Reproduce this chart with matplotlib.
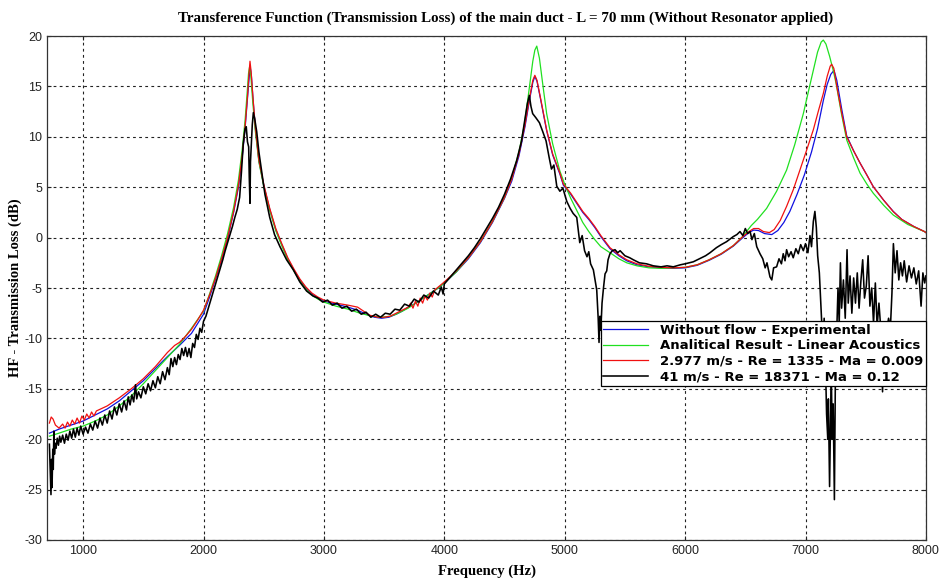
import matplotlib
matplotlib.use("Agg")
import matplotlib.pyplot as plt

plt.rcParams["axes.unicode_minus"] = False

# values (Hz, dB)
blue_freq = [720, 800, 900, 1000, 1100, 1200, 1300, 1400, 1500, 1600, 1700, 1800, 1900, 2000,
             2050, 2100, 2150, 2200, 2250, 2290, 2320, 2345, 2365, 2380, 2389, 2398, 2412, 2432,
             2460, 2500, 2550, 2600, 2650, 2700, 2750, 2800, 2850, 2900, 2950, 3000, 3100, 3200,
             3280, 3350, 3420, 3480, 3540, 3600, 3650, 3700, 3750, 3800, 3850, 3900, 3950, 4000,
             4100, 4200, 4300, 4400, 4500, 4560, 4620, 4670, 4710, 4735, 4752, 4770, 4800, 4850,
             4900, 4960, 4989, 5050, 5100, 5150, 5200, 5250, 5300, 5376, 5450, 5515, 5600, 5700,
             5800, 5900, 6000, 6100, 6200, 6300, 6400, 6470, 6530, 6570, 6610, 6660, 6720, 6770,
             6820, 6870, 6930, 6990, 7050, 7100, 7148, 7180, 7210, 7237, 7260, 7300, 7342, 7400,
             7453, 7510, 7563, 7650, 7729, 7800, 7900, 7988, 8000]
blue_tl = [-19.4, -19.0, -18.6, -18.2, -17.6, -17.0, -16.2, -15.2, -14.2, -13.0, -11.8, -10.7, -9.5, -7.6,
           -5.9, -4.1, -2.2, -0.1, 2.5, 5.0, 7.8, 10.8, 13.8, 16.0, 16.8, 16.0, 13.6, 10.7,
           7.6, 5.2, 2.8, 0.8, -0.7, -2.1, -3.2, -4.2, -5.0, -5.6, -6.0, -6.3, -6.6, -6.9,
           -7.2, -7.6, -7.9, -8.0, -7.9, -7.6, -7.3, -6.9, -6.6, -6.2, -5.8, -5.4, -5.0, -4.5,
           -3.4, -2.1, -0.5, 1.5, 3.9, 5.6, 8.1, 11.0, 13.8, 15.4, 16.0, 15.5, 13.7, 10.6,
           8.2, 6.3, 5.2, 4.3, 3.4, 2.5, 1.8, 1.0, 0.1, -1.1, -1.8, -2.3, -2.7, -2.9,
           -3.0, -3.05, -3.0, -2.75, -2.25, -1.65, -0.85, -0.1, 0.5, 0.75, 0.7, 0.4, 0.3, 0.7,
           1.5, 2.6, 4.3, 6.2, 8.5, 10.8, 13.6, 15.2, 16.2, 16.6, 15.6, 12.8, 10.1, 8.6,
           7.4, 6.2, 5.05, 3.7, 2.6, 1.8, 1.1, 0.6, 0.5]

green_freq = [720, 800, 900, 1000, 1100, 1200, 1300, 1400, 1500, 1600, 1700, 1800, 1900, 2000,
              2050, 2100, 2150, 2200, 2250, 2290, 2320, 2345, 2362, 2374, 2382, 2392, 2408, 2430,
              2460, 2500, 2550, 2600, 2650, 2700, 2750, 2800, 2850, 2900, 2950, 3000, 3100, 3200,
              3300, 3400, 3480, 3550, 3600, 3650, 3700, 3750, 3800, 3850, 3900, 3950, 4000, 4100,
              4200, 4300, 4400, 4500, 4560, 4620, 4665, 4700, 4735, 4752, 4768, 4790, 4820, 4850,
              4900, 4960, 5000, 5050, 5100, 5150, 5200, 5250, 5300, 5376, 5450, 5515, 5600, 5700,
              5800, 5900, 6000, 6100, 6200, 6300, 6400, 6470, 6550, 6600, 6677, 6760, 6843, 6910,
              6982, 7030, 7065, 7100, 7130, 7148, 7170, 7200, 7230, 7254, 7300, 7342, 7400, 7453,
              7510, 7563, 7650, 7729, 7850, 7988, 8000]
green_tl = [-19.7, -19.4, -19.0, -18.7, -18.2, -17.6, -16.7, -15.7, -14.5, -13.2, -11.9, -10.6, -9.0, -7.3,
            -5.6, -3.8, -1.8, 0.4, 3.0, 5.7, 8.6, 11.6, 14.3, 16.3, 16.9, 16.2, 13.6, 10.6,
            7.5, 5.1, 2.7, 0.7, -0.8, -2.2, -3.3, -4.3, -5.1, -5.7, -6.1, -6.4, -6.8, -7.1,
            -7.5, -7.8, -7.9, -7.8, -7.6, -7.3, -7.0, -6.6, -6.2, -5.8, -5.4, -5.0, -4.5, -3.4,
            -2.0, -0.4, 1.6, 4.0, 5.9, 8.5, 11.2, 14.3, 17.5, 18.6, 19.0, 17.8, 15.0, 12.3,
            9.3, 6.6, 5.3, 3.9, 2.7, 1.5, 0.6, -0.2, -0.9, -1.5, -2.1, -2.5, -2.8, -3.0,
            -3.05, -3.0, -2.95, -2.7, -2.2, -1.6, -0.8, 0.0, 1.2, 1.8, 2.9, 4.6, 6.7, 9.2,
            12.3, 14.8, 16.6, 18.4, 19.4, 19.6, 19.2, 18.0, 16.6, 15.3, 12.2, 9.7, 7.9, 6.4,
            5.3, 4.4, 3.2, 2.24, 1.3, 0.6, 0.5]

red_freq = [720, 735, 750, 770, 800, 830, 850, 870, 890, 910, 930, 950, 970, 990, 1010, 1030,
            1050, 1070, 1090, 1110, 1200, 1300, 1400, 1500, 1600, 1700, 1760, 1800, 1850, 1900,
            1950, 2000, 2050, 2100, 2150, 2200, 2250, 2290, 2320, 2345, 2365, 2378, 2386, 2395,
            2410, 2430, 2460, 2500, 2550, 2600, 2650, 2700, 2750, 2800, 2850, 2900, 2950, 3000,
            3100, 3200, 3280, 3330, 3380, 3450, 3500, 3550, 3600, 3650, 3700, 3720, 3740, 3760,
            3780, 3800, 3820, 3840, 3860, 3880, 3900, 3920, 3950, 4000, 4100, 4200, 4300, 4400,
            4500, 4560, 4620, 4670, 4710, 4735, 4752, 4770, 4800, 4850, 4900, 4960, 4989, 5050,
            5100, 5150, 5200, 5250, 5300, 5376, 5450, 5515, 5600, 5700, 5800, 5900, 6000, 6100,
            6200, 6300, 6400, 6470, 6530, 6570, 6610, 6650, 6700, 6740, 6790, 6843, 6900, 6954,
            7010, 7065, 7110, 7148, 7180, 7205, 7217, 7235, 7260, 7300, 7342, 7400, 7453, 7510,
            7563, 7650, 7729, 7800, 7900, 7988, 8000]
red_tl = [-18.4, -17.8, -18.0, -18.6, -18.9, -18.5, -18.9, -18.3, -18.7, -18.1, -18.5, -17.9, -18.4, -17.7, -18.1, -17.5,
          -17.9, -17.3, -17.7, -17.2, -16.7, -15.9, -15.0, -14.0, -12.8, -11.4, -10.7, -10.4, -9.8, -9.1,
          -8.2, -7.2, -5.7, -4.0, -2.1, 0.0, 2.6, 5.2, 8.0, 11.0, 14.0, 16.3, 17.5, 16.5,
          14.0, 11.0, 7.7, 5.3, 2.9, 0.9, -0.6, -2.0, -3.1, -4.1, -4.9, -5.5, -5.9, -6.2,
          -6.5, -6.7, -6.9, -7.3, -7.7, -7.9, -7.9, -7.8, -7.5, -7.2, -6.9, -6.5, -7.0, -6.3,
          -6.8, -6.0, -6.5, -5.8, -6.2, -5.5, -5.9, -5.2, -4.9, -4.4, -3.3, -2.0, -0.4, 1.6,
          4.0, 5.8, 8.3, 11.2, 14.0, 15.6, 16.1, 15.6, 13.8, 10.7, 8.3, 6.4, 5.3, 4.4,
          3.5, 2.6, 1.9, 1.1, 0.2, -1.0, -1.7, -2.2, -2.6, -2.85, -2.95, -3.0, -2.95, -2.7,
          -2.2, -1.6, -0.8, 0.0, 0.6, 0.9, 0.9, 0.6, 0.5, 0.8, 1.7, 3.1, 4.8, 6.7,
          8.7, 10.7, 12.7, 14.3, 16.0, 17.0, 17.2, 16.8, 15.0, 12.4, 10.0, 8.6, 7.4, 6.2,
          5.05, 3.7, 2.57, 1.8, 1.1, 0.6, 0.5]

black_freq = [720, 728, 733, 738, 742, 748, 752, 757, 762, 768, 775, 785, 795, 805, 815, 830,
              845, 860, 875, 890, 905, 920, 935, 950, 965, 980, 1000, 1020, 1040, 1060, 1080, 1100,
              1120, 1140, 1160, 1180, 1200, 1220, 1240, 1260, 1280, 1300, 1320, 1340, 1360, 1375,
              1390, 1405, 1420, 1435, 1445, 1460, 1480, 1500, 1520, 1540, 1560, 1580, 1600, 1620,
              1640, 1660, 1680, 1700, 1715, 1730, 1745, 1760, 1775, 1790, 1805, 1820, 1835, 1850,
              1865, 1880, 1895, 1910, 1925, 1940, 1955, 1970, 1985, 2000, 2020, 2040, 2060, 2080,
              2100, 2120, 2140, 2160, 2180, 2200, 2220, 2240, 2260, 2280, 2300, 2315, 2330, 2345,
              2355, 2365, 2375, 2380, 2386, 2390, 2395, 2405, 2414, 2425, 2442, 2460, 2483, 2510,
              2550, 2590, 2635, 2690, 2746, 2800, 2856, 2910, 2950, 2990, 3030, 3070, 3110, 3150,
              3190, 3230, 3270, 3310, 3350, 3390, 3430, 3470, 3510, 3550, 3590, 3630, 3670, 3710,
              3750, 3790, 3830, 3870, 3910, 3950, 3975, 3990, 4000, 4050, 4100, 4150, 4200, 4250,
              4300, 4350, 4400, 4450, 4500, 4550, 4600, 4640, 4670, 4690, 4706, 4720, 4734, 4760,
              4790, 4815, 4845, 4870, 4890, 4910, 4934, 4960, 4985, 5017, 5045, 5070, 5100, 5125,
              5145, 5165, 5185, 5200, 5215, 5238, 5255, 5266, 5278, 5285, 5293, 5300, 5310, 5322,
              5335, 5349, 5360, 5376, 5395, 5418, 5440, 5460, 5500, 5540, 5570, 5620, 5680, 5736,
              5800, 5850, 5902, 5960, 6000, 6068, 6120, 6170, 6207, 6260, 6300, 6345, 6400, 6430,
              6456, 6480, 6500, 6520, 6540, 6555, 6575, 6595, 6622, 6645, 6665, 6680, 6705, 6720,
              6735, 6760, 6780, 6800, 6815, 6830, 6843, 6860, 6880, 6898, 6920, 6940, 6960, 6982,
              7000, 7020, 7037, 7050, 7065, 7078, 7090, 7101, 7115, 7125, 7135, 7145, 7155, 7165,
              7175, 7185, 7190, 7200, 7208, 7215, 7222, 7230, 7240, 7248, 7258, 7270, 7280, 7290,
              7300, 7315, 7330, 7345, 7355, 7370, 7385, 7400, 7415, 7430, 7445, 7460, 7475, 7490,
              7505, 7520, 7535, 7550, 7565, 7580, 7595, 7610, 7625, 7640, 7650, 7670, 7690, 7705,
              7718, 7730, 7745, 7760, 7775, 7790, 7805, 7820, 7840, 7860, 7880, 7900, 7920, 7940,
              7960, 7975, 7990, 8000]
black_tl = [-20.5, -23.5, -25.5, -22.0, -24.8, -21.0, -23.0, -19.2, -21.5, -20.4, -20.9, -19.9, -20.6, -19.7, -20.3, -19.6,
            -20.4, -19.5, -20.1, -19.2, -19.9, -19.0, -19.8, -18.9, -19.6, -18.7, -19.5, -18.8, -19.4, -18.5, -19.1, -18.2,
            -18.9, -17.9, -18.6, -17.6, -18.4, -17.2, -18.0, -16.8, -17.6, -16.5, -17.3, -16.2, -17.1, -15.8,
            -16.6, -15.6, -16.3, -14.6, -16.0, -15.3, -15.9, -14.8, -15.5, -14.5, -15.2, -14.2, -14.9, -13.8,
            -14.5, -13.3, -14.1, -12.9, -13.6, -12.0, -12.8, -11.9, -12.6, -11.6, -12.1, -11.0, -11.7, -10.9,
            -11.8, -11.0, -11.9, -10.5, -10.9, -9.6, -10.1, -9.0, -9.4, -8.3, -7.8, -7.0, -6.2, -5.4,
            -4.6, -3.8, -3.0, -2.2, -1.3, -0.5, 0.3, 1.1, 2.0, 2.8, 4.0, 6.5, 9.3, 10.8,
            11.0, 9.5, 9.0, 6.0, 3.4, 7.5, 8.8, 11.2, 12.4, 11.8, 10.5, 8.5, 6.6, 4.3,
            2.0, 0.3, -0.9, -2.2, -3.2, -4.4, -5.3, -5.8, -6.0, -6.4, -6.2, -6.7, -6.5, -7.0,
            -6.8, -7.3, -7.1, -7.6, -7.4, -7.9, -7.6, -7.9, -7.5, -7.6, -7.1, -7.2, -6.6, -6.8,
            -6.1, -6.4, -5.7, -6.0, -5.3, -5.7, -4.9, -5.6, -4.6, -3.9, -3.2, -2.5, -1.8, -1.0,
            -0.1, 0.9, 1.9, 3.0, 4.3, 5.8, 7.6, 9.5, 11.8, 13.3, 14.1, 13.0, 12.3, 11.9,
            11.4, 10.6, 9.6, 8.0, 6.8, 7.2, 5.1, 4.6, 4.9, 3.6, 2.9, 2.4, 2.0, -0.5,
            0.2, -1.3, -1.9, -1.4, -2.6, -3.2, -4.4, -5.2, -8.0, -10.4, -7.8, -9.2, -6.5, -5.0,
            -3.6, -3.3, -2.2, -1.6, -1.3, -1.2, -1.5, -1.3, -1.8, -2.0, -2.2, -2.5, -2.6, -2.8,
            -2.9, -2.8, -2.9, -2.7, -2.6, -2.4, -2.1, -1.8, -1.5, -1.0, -0.7, -0.4, 0.1, 0.3,
            0.6, 0.2, 0.9, 0.4, 0.6, -0.2, 0.4, -0.9, -1.6, -2.1, -3.0, -2.5, -3.9, -4.2,
            -3.0, -2.9, -2.1, -2.6, -1.6, -2.3, -1.2, -1.9, -1.4, -2.0, -1.1, -1.6, -0.7, -1.3,
            -0.6, -1.5, 0.2, -0.9, 1.6, 2.6, 1.0, -1.8, -3.5, -6.0, -8.5, -10.5, -8.0, -12.0,
            -17.5, -20.0, -16.0, -24.7, -18.0, -14.0, -20.0, -16.5, -26.0, -14.0, -10.0, -5.0, -8.5, -2.5,
            -7.0, -4.2, -8.0, -1.2, -6.5, -3.8, -7.5, -4.0, -6.5, -3.5, -7.0, -4.3, -2.2, -6.0,
            -4.8, -1.8, -6.8, -5.0, -8.5, -4.5, -8.8, -6.5, -9.0, -15.3, -8.5, -9.5, -8.0, -9.0,
            -5.5, -0.6, -3.5, -1.3, -4.2, -2.5, -3.8, -2.3, -4.4, -2.8, -4.0, -3.0, -4.6, -3.3,
            -6.8, -3.5, -4.5, -3.8]

legend_labels = ["Without flow - Experimental",
                 "Analitical Result - Linear Acoustics",
                 "2.977 m/s - Re = 1335 - Ma = 0.009",
                 "41 m/s - Re = 18371 - Ma = 0.12"]

x_ticks = [1000, 2000, 3000, 4000, 5000, 6000, 7000, 8000]
y_ticks = [-30, -25, -20, -15, -10, -5, 0, 5, 10, 15, 20]


fig = plt.figure(figsize=(9.4, 5.81), dpi=100)
ax = fig.add_axes([0.050, 0.0706, 0.935, 0.8674])

ax.plot(blue_freq, blue_tl, color="#1010e0", lw=0.9, label=legend_labels[0])
ax.plot(green_freq, green_tl, color="#20e020", lw=0.9, label=legend_labels[1])
ax.plot(red_freq, red_tl, color="#f01010", lw=0.9, label=legend_labels[2])
ax.plot(black_freq, black_tl, color="black", lw=1.15, label=legend_labels[3])

ax.set_xlim(700, 8000)
ax.set_ylim(-30, 20)
ax.set_xticks(x_ticks)
ax.set_yticks(y_ticks)
ax.tick_params(direction="in", length=3, labelsize=9, colors="#222222",
               top=True, right=True)
for lbl in ax.get_xticklabels() + ax.get_yticklabels():
    lbl.set_fontfamily("Liberation Sans")
ax.grid(True, color="#222222", linestyle=(0, (2.5, 3)), linewidth=0.8)
for sp in ax.spines.values():
    sp.set_linewidth(0.9)
    sp.set_color("#333333")

fig.text(0.538, 0.968,
         "Transference Function (Transmission Loss) of the main duct - L = 70 mm (Without Resonator applied)",
         ha="center", va="center", fontsize=10.8, fontweight="bold", family="Liberation Serif")
fig.text(0.518, 0.017, "Frequency (Hz)", ha="center", va="center",
         fontsize=10.5, fontweight="bold", family="Liberation Serif")
fig.text(0.016, 0.505, "HF - Transmission Loss (dB)", ha="center", va="center", rotation=90,
         fontsize=10.5, fontweight="bold", family="Liberation Serif")

leg = ax.legend(loc="upper left", bbox_to_anchor=(0.630, 0.4345), borderaxespad=0,
                prop={"family": "DejaVu Sans", "weight": "bold", "size": 9.5},
                handlelength=3.4, handletextpad=0.9, labelspacing=0.2, borderpad=0.2,
                fancybox=False, framealpha=1, edgecolor="black")
leg.get_frame().set_linewidth(0.9)

fig.savefig("out.png", dpi=100)
